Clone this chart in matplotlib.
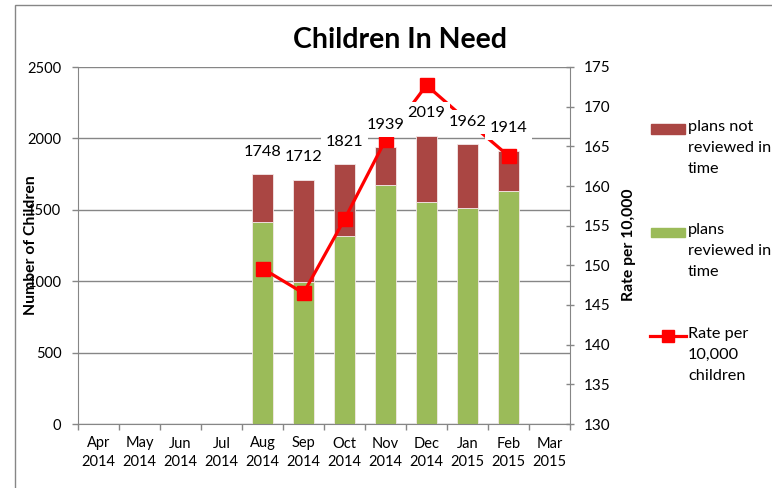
import numpy as np
import matplotlib
matplotlib.use("Agg")
import matplotlib.pyplot as plt
from matplotlib.patches import Rectangle
from matplotlib.lines import Line2D

plt.rcParams["font.family"] = ["Lato", "DejaVu Sans"]

# data
months = ["Apr\n2014", "May\n2014", "Jun\n2014", "Jul\n2014", "Aug\n2014", "Sep\n2014",
          "Oct\n2014", "Nov\n2014", "Dec\n2014", "Jan\n2015", "Feb\n2015", "Mar\n2015"]
reviewed = [np.nan, np.nan, np.nan, np.nan, 1417, 997, 1316, 1671, 1557, 1515, 1632, np.nan]
totals = [np.nan, np.nan, np.nan, np.nan, 1748, 1712, 1821, 1939, 2019, 1962, 1914, np.nan]
rate = [np.nan, np.nan, np.nan, np.nan, 149.6, 146.5, 155.8, 165.8, 172.7, 168.2, 163.8, np.nan]

reviewed = np.array(reviewed, dtype=float)
totals = np.array(totals, dtype=float)
not_reviewed = totals - reviewed
x = np.arange(len(months))

RED_BAR = "#AA4643"
GREEN = "#9BBB59"
LINE_RED = "#FF0000"
GREY = "#868686"

W, H = 772, 488
fig = plt.figure(figsize=(W / 100, H / 100), dpi=100)


def fx(px):
    return px / W


def fy(py):
    return 1 - py / H


ax = fig.add_axes([fx(78), fy(424), fx(570) - fx(78), fy(67) - fy(424)])

ax.bar(x, reviewed, width=0.5, color=GREEN, edgecolor="#f4e8e8", linewidth=0.6, zorder=2)
ax.bar(x, not_reviewed, bottom=reviewed, width=0.5, color=RED_BAR,
       edgecolor="#f4e8e8", linewidth=0.6, zorder=2)

ax.set_xlim(-0.5, 11.5)
ax.set_ylim(0, 2500)
ax.set_yticks(np.arange(0, 2501, 500))
ax.yaxis.grid(True, color=GREY, linewidth=1)
ax.set_axisbelow(True)
ax.set_xticks(x)
ax.set_xticklabels(months, fontsize=10.5, linespacing=1.45)
ax.set_xticks(np.arange(-0.5, 12, 1), minor=True)
ax.tick_params(axis="x", which="major", length=0, pad=9)
ax.tick_params(axis="x", which="minor", length=4, color=GREY, width=1)
ax.tick_params(axis="y", length=4, color=GREY, width=1, pad=8, labelsize=10.5)
for side in ["left", "bottom"]:
    ax.spines[side].set_color(GREY)
ax.spines["top"].set_visible(False)
ax.spines["right"].set_visible(False)

ax2 = ax.twinx()
ax2.plot(x, rate, color=LINE_RED, linewidth=2.3, marker="s", markersize=9.5, zorder=3)
ax2.set_ylim(130, 175)
ax2.set_yticks(np.arange(130, 176, 5))
ax2.tick_params(axis="y", direction="inout", length=6, color=GREY, width=1, pad=7, labelsize=11)
ax2.spines["right"].set_color(GREY)
for side in ["left", "top", "bottom"]:
    ax2.spines[side].set_visible(False)

# total labels with white boxes sit on top of the line
for xi, t in zip(x, totals):
    if np.isnan(t):
        continue
    ax2.annotate(f"{int(t)}", xy=(xi, t), xycoords=ax.transData,
                 xytext=(0, 16), textcoords="offset points", ha="center", va="center",
                 fontsize=11.8, zorder=5,
                 bbox=dict(boxstyle="square,pad=0.3", fc="white", ec="none"))

fig.text(fx(400), fy(40), "Children In Need", ha="center", va="center",
         fontsize=20.5, fontweight="bold")
fig.text(fx(31), fy(245), "Number of Children", rotation=90, ha="center", va="center",
         fontsize=11.3, fontweight="bold")
fig.text(fx(629), fy(245), "Rate per 10,000", rotation=90, ha="center", va="center",
         fontsize=11.3, fontweight="bold")

# legend drawn by hand so the keys sit at the first text line
fig.add_artist(Rectangle((fx(651), fy(134)), fx(685) - fx(651), fy(124) - fy(134),
                         transform=fig.transFigure, color=RED_BAR))
fig.add_artist(Rectangle((fx(651), fy(237)), fx(685) - fx(651), fy(228) - fy(237),
                         transform=fig.transFigure, color=GREEN))
fig.add_artist(Line2D([fx(650), fx(686)], [fy(336), fy(336)], transform=fig.transFigure,
                      color=LINE_RED, linewidth=2.3))
fig.add_artist(Line2D([fx(668)], [fy(336)], transform=fig.transFigure, color=LINE_RED,
                      marker="s", markersize=8))
legend_labels = ["plans not\nreviewed in\ntime", "plans\nreviewed in\ntime",
                 "Rate per\n10,000\nchildren"]
for label, top in zip(legend_labels, [120, 223, 327]):
    fig.text(fx(688), fy(top), label, ha="left", va="top", fontsize=11.7, linespacing=1.62)

# outer chart border (only left and top fall inside the image)
fig.add_artist(Rectangle((fx(15.5), fy(520)), fx(800), fy(4.5) - fy(520),
                         transform=fig.transFigure, fill=False, edgecolor=GREY, linewidth=1))

fig.savefig("out.png", dpi=100)
